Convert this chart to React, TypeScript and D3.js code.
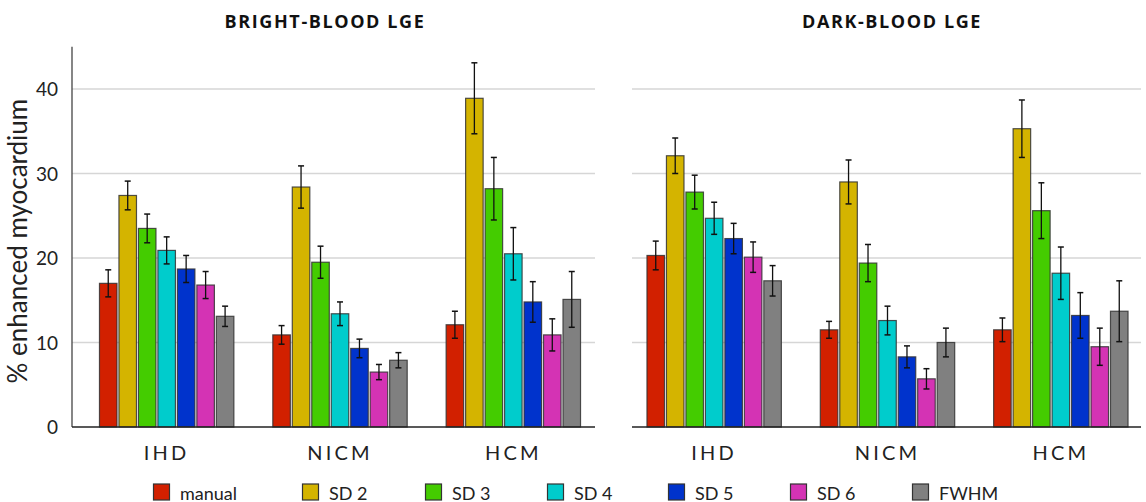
import React from 'react';
import * as d3 from 'd3';

const categories = ['IHD', 'NICM', 'HCM'];
const series = ['manual', 'SD 2', 'SD 3', 'SD 4', 'SD 5', 'SD 6', 'FWHM'];
const colors = ['#d22000', '#d4b400', '#44cc00', '#00cccc', '#0033cc', '#d433b4', '#808080'];
const yTicks = [0, 10, 20, 30, 40];

// mean values per category (rows) and series (columns)
const brightMean = [
  [17.0, 27.4, 23.5, 20.9, 18.7, 16.8, 13.1],
  [10.9, 28.4, 19.5, 13.4, 9.3, 6.5, 7.9],
  [12.1, 38.9, 28.2, 20.5, 14.8, 10.9, 15.1],
];
const brightErr = [
  [1.6, 1.7, 1.7, 1.6, 1.6, 1.6, 1.2],
  [1.1, 2.5, 1.9, 1.4, 1.1, 0.9, 0.9],
  [1.6, 4.2, 3.7, 3.1, 2.4, 1.9, 3.3],
];
const darkMean = [
  [20.3, 32.1, 27.8, 24.7, 22.3, 20.1, 17.3],
  [11.5, 29.0, 19.4, 12.6, 8.3, 5.7, 10.0],
  [11.5, 35.3, 25.6, 18.2, 13.2, 9.5, 13.7],
];
const darkErr = [
  [1.7, 2.1, 2.0, 1.9, 1.8, 1.8, 1.8],
  [1.0, 2.6, 2.2, 1.7, 1.3, 1.2, 1.7],
  [1.4, 3.4, 3.3, 3.1, 2.7, 2.2, 3.6],
];

const W = 1146;
const H = 502;
const y = d3.scaleLinear().domain([0, 45]).range([427, 46.75]);
// legend entry positions (layout)
const legendX = [153, 302, 425, 547, 668, 790, 912];

type PanelProps = {
  title: string;
  titleX: number;
  means: number[][];
  errs: number[][];
  range: [number, number];
  axisX0: number;
  axisX1: number;
  showAxis: boolean;
};

function Panel({ title, titleX, means, errs, range, axisX0, axisX1, showAxis }: PanelProps) {
  const x0 = d3.scaleBand().domain(categories).range(range);
  const x1 = d3.scaleBand().domain(series).range([0, x0.bandwidth()]).paddingInner(0.1).paddingOuter(1);
  const bw = x1.bandwidth();
  return (
    <g>
      <text x={titleX} y={28} textAnchor="middle" fontFamily="Open Sans" fontWeight={700}
        fontSize={18} letterSpacing={1.6} fill="#111">{title}</text>
      {yTicks.slice(1).map((t) => (
        <line key={t} x1={axisX0} x2={axisX1} y1={y(t)} y2={y(t)} stroke="#d6d6d6" strokeWidth={1.6} />
      ))}
      {showAxis && <line x1={axisX0} x2={axisX0} y1={y(45)} y2={y(0)} stroke="#444" strokeWidth={1.3} />}
      {categories.map((c, ci) => (
        <g key={c} transform={`translate(${x0(c)},0)`}>
          {series.map((s, si) => {
            const v = means[ci][si];
            const e = errs[ci][si];
            const bx = x1(s) as number;
            const cx = bx + bw / 2;
            return (
              <g key={s}>
                <rect x={bx} y={y(v)} width={bw} height={y(0) - y(v)} fill={colors[si]}
                  stroke="#333" strokeOpacity={0.85} strokeWidth={1.2} />
                <line x1={cx} x2={cx} y1={y(v + e)} y2={y(v - e)} stroke="#111" strokeWidth={1.3} />
                <line x1={cx - 3} x2={cx + 3} y1={y(v + e)} y2={y(v + e)} stroke="#111" strokeWidth={1.5} />
                <line x1={cx - 3} x2={cx + 3} y1={y(v - e)} y2={y(v - e)} stroke="#111" strokeWidth={1.5} />
              </g>
            );
          })}
          <text x={x0.bandwidth() / 2} y={460} textAnchor="middle" fontFamily="Lato" fontSize={20}
            letterSpacing={3.2} fill="#222">{c}</text>
        </g>
      ))}
      <line x1={axisX0} x2={axisX1} y1={y(0)} y2={y(0)} stroke="#222" strokeWidth={1.6} />
    </g>
  );
}

export default function App() {
  return (
    <svg width={W} height={H} style={{ display: 'block', position: 'absolute', left: 0, top: 0 }}>
      <rect width={W} height={H} fill="#fff" />
      {yTicks.map((t) => (
        <text key={t} x={58} y={y(t) + 7} textAnchor="end" fontFamily="Lato" fontSize={19} fill="#222">{t}</text>
      ))}
      <text transform={`translate(27,${y(22)}) rotate(-90)`} textAnchor="middle" fontFamily="Lato"
        fontSize={26} fill="#222">% enhanced myocardium</text>
      <Panel title="BRIGHT-BLOOD LGE" titleX={325} means={brightMean} errs={brightErr}
        range={[80, 600]} axisX0={72} axisX1={595} showAxis={true} />
      <Panel title="DARK-BLOOD LGE" titleX={892} means={darkMean} errs={darkErr}
        range={[627.5, 1147.5]} axisX0={632} axisX1={1141} showAxis={false} />
      {series.map((s, i) => (
        <g key={s} transform={`translate(${legendX[i]},484)`}>
          <rect x={0.5} y={0} width={16} height={16} fill={colors[i]} stroke="#333" strokeWidth={1.2} />
          <text x={27} y={15.5} fontFamily="Lato" fontSize={18} fill="#222">{s}</text>
        </g>
      ))}
    </svg>
  );
}
